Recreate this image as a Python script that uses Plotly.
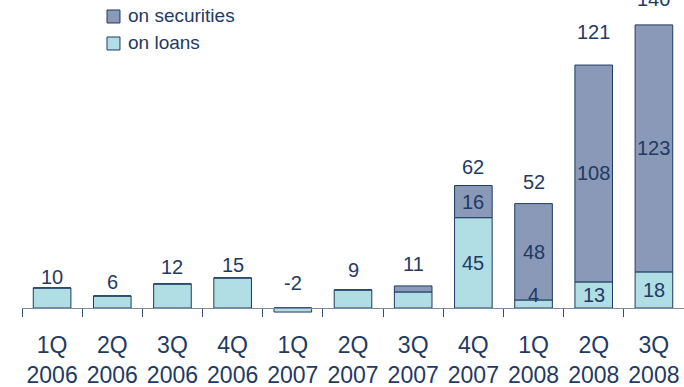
import plotly.graph_objects as go

# Quarterly write-downs, split by source
quarters = ["1Q", "2Q", "3Q", "4Q", "1Q", "2Q", "3Q", "4Q", "1Q", "2Q", "3Q"]
years = ["2006", "2006", "2006", "2006", "2007", "2007", "2007", "2007", "2008", "2008", "2008"]
loans = [10, 6, 12, 15, -2, 9, 8, 45, 4, 13, 18]
securities = [0, 0, 0, 0, 0, 0, 3, 16, 48, 108, 123]
totals = [10, 6, 12, 15, -2, 9, 11, 62, 52, 121, 140]

# quarters whose two segments carry their own value labels
segment_labelled = [7, 8, 9, 10]
# pixel lift of each total label above the top of its stack
total_label_lift = [11, 14, 17, 13, 25, 20, 22, 19, 22, 33, 26]

categories = [f"{q}<br>{y}" for q, y in zip(quarters, years)]

NAVY = "#1F3A63"
SEC_FILL = "#8A99B8"
LOAN_FILL = "#B0DEE4"
FONT = "Liberation Sans, Arial, sans-serif"

fig = go.Figure()
fig.add_trace(go.Bar(
    x=categories, y=loans, name="on loans",
    marker=dict(color=LOAN_FILL, line=dict(color=NAVY, width=1)),
))
fig.add_trace(go.Bar(
    x=categories, y=securities, name="on securities",
    marker=dict(color=SEC_FILL, line=dict(color=NAVY, width=1)),
))

annotations = []
for i, cat in enumerate(categories):
    top = max(loans[i], 0) + securities[i]
    annotations.append(dict(
        x=cat, y=top, xref="x", yref="y", text=str(totals[i]),
        showarrow=False, yanchor="middle", yshift=total_label_lift[i],
        font=dict(size=20, color=NAVY, family=FONT),
    ))
    if i in segment_labelled:
        loan_shift = 9 if loans[i] < 8 else 0
        annotations.append(dict(
            x=cat, y=loans[i] / 2, xref="x", yref="y", text=str(loans[i]),
            showarrow=False, yanchor="middle", yshift=loan_shift,
            font=dict(size=20, color=NAVY, family=FONT),
        ))
        annotations.append(dict(
            x=cat, y=loans[i] + securities[i] / 2, xref="x", yref="y",
            text=str(securities[i]), showarrow=False, yanchor="middle",
            font=dict(size=20, color=NAVY, family=FONT),
        ))

# legend drawn as swatches with captions at the upper left
legend_items = [("on securities", SEC_FILL, 0.9686, 0.9277, 0.9497),
                ("on loans", LOAN_FILL, 0.8836, 0.8428, 0.8648)]
shapes = []
for label, fill, y1, y0, ym in legend_items:
    shapes.append(dict(type="rect", xref="paper", yref="paper",
                       x0=0.1284, x1=0.1480, y0=y0, y1=y1,
                       fillcolor=fill, line=dict(color=NAVY, width=1)))
    annotations.append(dict(x=0.1571, y=ym, xref="paper", yref="paper",
                            text=label, showarrow=False, xanchor="left",
                            yanchor="middle",
                            font=dict(size=19, color=NAVY, family=FONT)))

fig.update_layout(
    template="none",
    width=684, height=387,
    margin=dict(l=22, r=0, t=0, b=69),
    paper_bgcolor="white", plot_bgcolor="white",
    barmode="relative", bargap=0.375,
    showlegend=False,
    annotations=annotations, shapes=shapes,
    font=dict(family=FONT, color=NAVY),
)
fig.update_xaxes(
    type="category", range=[-0.5, 10.5],
    anchor="free", position=10 / 318,
    showline=True, linecolor="#7C8BA6", linewidth=1,
    ticks="outside", tickson="boundaries", ticklen=8, tickcolor="#3A4E6E",
    tickfont=dict(size=23, color=NAVY, family=FONT),
    ticklabelstandoff=16,
    showgrid=False, zeroline=False, automargin=False,
)
fig.update_yaxes(
    range=[-4.97, 153.4], visible=False, showgrid=False,
    zeroline=False, automargin=False,
)

fig.write_html("out.html")
